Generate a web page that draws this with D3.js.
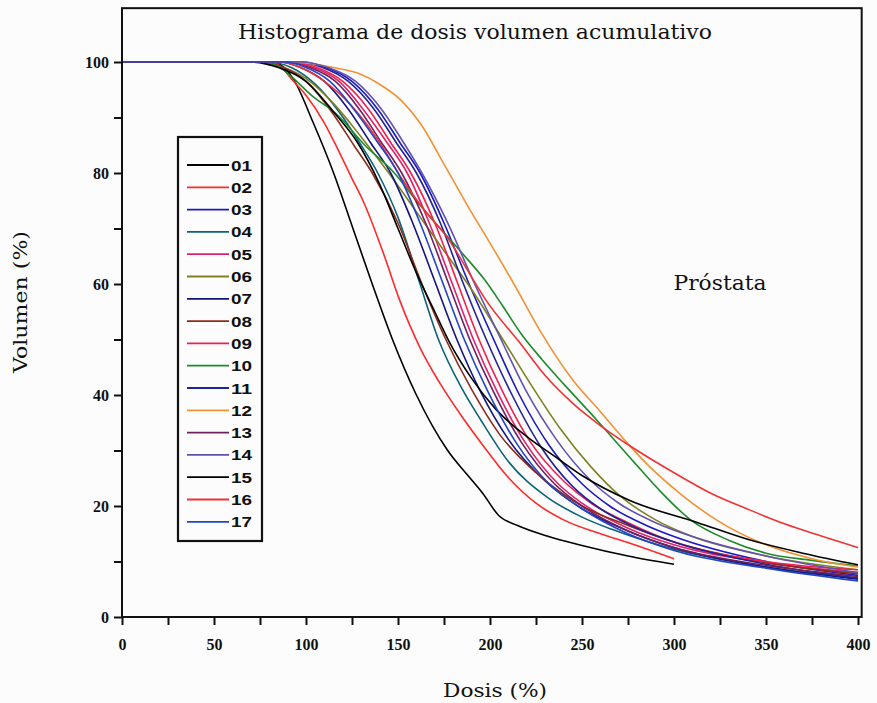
<!DOCTYPE html>
<html>
<head>
<meta charset="utf-8">
<script src="https://cdn.jsdelivr.net/npm/d3@7"></script>
<style>
  body { margin: 0; background: #fcfcfd; }
  svg { display: block; }
  .tick text { font-family: "Liberation Serif", serif; font-weight: bold; font-size: 16px; fill: #111; }
  .tick line { stroke: #111; stroke-width: 2; }
</style>
</head>
<body>
<div id="chart"></div>
<script>
const width = 877;
const height = 703;

// series names and colours (legend order)
const labels = ['01', '02', '03', '04', '05', '06', '07', '08', '09', '10', '11', '12', '13', '14', '15', '16', '17'];
const colors = ['#000000', '#ff2a2a', '#1a1ac0', '#0b6478', '#e0206e', '#808022', '#14147e', '#8e2c1c', '#f0204e',
                '#1f8a2a', '#222294', '#f29232', '#70205e', '#6252b2', '#000000', '#f03232', '#2244c8'];

const xTicks = [0, 50, 100, 150, 200, 250, 300, 350, 400];
const xMinor = [25, 75, 125, 175, 225, 275, 325, 375];
const yTicks = [0, 20, 40, 60, 80, 100];
const yMinor = [10, 30, 50, 70, 90];

// [dosis %, volumen %]
const dvh01 = [[0,100],[80,100],[86,99.5],[93,97],[104,89],[115,80],[125,70.5],[136,60],[147,50],[160,40],[177,30],[188,25.5],[196,22.3],[205,18.2],[215,16.5],[231,14.6],[250,12.9],[275,11],[300,9.5]];
const dvh02 = [[0,100],[80,100],[86,99.3],[92,97],[100,94],[110,89],[117,84.5],[125,79],[131,75],[142,65.6],[151,57],[162,48.5],[173,42],[185,36],[196,31],[209,25.5],[225,20.5],[240,17.5],[260,15],[276,13.3],[300,10.5]];
const dvh03 = [[0,100],[97,100],[111,99],[125,96.5],[139,91.5],[151,85.5],[162,80],[175,71],[188,60.5],[202,50],[216,40],[232,31],[250,24],[265,20],[285,16.5],[300,14.5],[350,10],[400,7.5]];
const dvh04 = [[0,100],[80,100],[92,99],[105,96],[118,91],[130,85],[139,80],[150,72],[161,61],[172,50],[185,41],[195,35.5],[210,28],[231,21.6],[250,18],[267,15.7],[300,12.2],[350,9],[400,7]];
const dvh05 = [[0,100],[90,100],[104,99],[118,96.5],[131,91.5],[144,85.5],[155,80],[167,71],[179,60.5],[191,50],[204,40.5],[219,31.5],[237,24],[250,20.5],[275,16],[300,13],[350,9.8],[400,8]];
const dvh06 = [[0,100],[75,100],[88,99],[100,97],[115,92.5],[130,86.5],[145,80],[160,73],[175,66],[190,59],[207,50],[222,42],[238,34],[255,27],[270,22],[290,17.5],[310,14.5],[350,11],[400,8.5]];
const dvh07 = [[0,100],[85,100],[97,99],[110,96.5],[123,91.5],[135,85.5],[146,80],[158,71],[170,60.5],[182,50],[195,40.5],[210,32],[230,24.5],[250,19.5],[275,15.5],[300,12.5],[350,9],[400,6.8]];
const dvh08 = [[0,100],[75,100],[88,99],[100,96.5],[114,91],[126,85],[136,80],[150,71],[163,60],[176,50],[190,41],[205,33],[225,26],[250,20],[275,16.5],[300,13.5],[350,9.8],[400,7.8]];
const dvh09 = [[0,100],[92,100],[106,99],[120,96.5],[134,91.5],[146,85.5],[157,80],[170,71],[182,60.5],[194,50],[207,40.5],[222,31.5],[240,24.5],[255,20.5],[275,17],[300,13.5],[350,10],[400,8.5]];
const dvh10 = [[0,100],[75,100],[85,99.2],[91,97.7],[103,94],[117,90.5],[132,85],[148,80],[160,75],[173,70],[185,65.5],[197,60.8],[207,56],[217,51],[228,46.5],[240,42],[258,35.5],[278,28],[293,22.5],[309,17.5],[330,13.8],[350,11.5],[375,10.2],[400,9.2]];
const dvh11 = [[0,100],[95,100],[109,99],[123,96.5],[137,91.5],[149,85.5],[160,80],[173,71],[185,60.5],[198,50],[212,40],[227,31],[245,23.5],[260,19.5],[280,16],[300,13.5],[350,9.5],[400,7]];
const dvh12 = [[0,100],[90,100],[105,99.6],[115,99],[128,98],[140,96],[152,93],[162,89],[176,81],[188,74],[198,68.5],[213,60],[227,51.7],[245,42.7],[260,37],[275,31.2],[287,27],[305,21.8],[323,17.5],[350,13],[375,10.5],[400,9]];
const dvh13 = [[0,100],[88,100],[102,99],[116,96.5],[129,91.5],[141,85.5],[152,80],[165,71],[177,60.5],[189,50],[202,40.5],[217,31.5],[235,24],[250,20],[275,15.5],[300,12.5],[350,9.3],[400,7.3]];
const dvh14 = [[0,100],[98,100],[112,99],[127,96.5],[141,91.5],[153,85.5],[163,80],[177,71],[191,60.5],[206,50],[220,40.5],[236,32],[255,24.5],[270,20.5],[290,17],[310,14.5],[350,11],[400,8]];
const dvh15 = [[0,100],[70,100],[85,99],[100,96.5],[115,91],[128,85.5],[140,78],[150,70],[160,62],[170,55],[178,49.5],[190,43],[203,37.5],[222,32],[235,29],[250,25.5],[276,21],[313,17],[340,14],[370,11.5],[400,9.4]];
const dvh16 = [[0,100],[85,100],[97,99],[110,96.5],[125,92],[140,85.5],[152,79],[165,73],[176.5,68.5],[191,60.7],[198,57],[216,49.5],[230,43.5],[245,38.5],[260,34.5],[280,30],[300,26],[320,22.3],[341,19.3],[360,16.8],[380,14.6],[400,12.5]];
const dvh17 = [[0,100],[88,100],[100,99],[113,96.5],[126,91.5],[139,85.5],[150,80],[162,71],[174,60.5],[186,50],[199,40.5],[214,31.5],[232,24],[250,19.5],[275,15],[300,12],[350,8.8],[400,6.5]];

const curves = [dvh01, dvh02, dvh03, dvh04, dvh05, dvh06, dvh07, dvh08, dvh09, dvh10, dvh11, dvh12, dvh13, dvh14, dvh15, dvh16, dvh17];

const x = d3.scaleLinear().domain([0, 400]).range([122, 858]);
const y = d3.scaleLinear().domain([0, 100]).range([617, 62]);

const svg = d3.select('#chart')
  .append('svg')
  .attr('width', width)
  .attr('height', height);

svg.append('defs').append('clipPath')
  .attr('id', 'plot')
  .append('rect')
  .attr('x', x(0))
  .attr('y', y(109.7))
  .attr('width', x(402) - x(0))
  .attr('height', y(0) - y(109.7));

// curves
const line = d3.line()
  .x((d) => x(d[0]))
  .y((d) => y(d[1]))
  .curve(d3.curveMonotoneX);

svg.append('g')
  .attr('clip-path', 'url(#plot)')
  .selectAll('path')
  .data(curves)
  .enter()
  .append('path')
  .attr('d', line)
  .attr('fill', 'none')
  .attr('stroke', (d, i) => colors[i])
  .attr('stroke-width', 1.6);

// frame
svg.append('rect')
  .attr('x', x(0))
  .attr('y', y(109.7))
  .attr('width', x(402) - x(0))
  .attr('height', y(0) - y(109.7))
  .attr('fill', 'none')
  .attr('stroke', '#111')
  .attr('stroke-width', 2);

// axes
const xAxis = svg.append('g')
  .attr('transform', `translate(0, ${y(0)})`)
  .call(d3.axisBottom(x).tickValues(xTicks).tickSize(8).tickPadding(14).tickSizeOuter(0));
xAxis.select('.domain').remove();

svg.append('g')
  .attr('transform', `translate(0, ${y(0)})`)
  .call(d3.axisBottom(x).tickValues(xMinor).tickSize(8).tickFormat(''))
  .select('.domain').remove();

const yAxis = svg.append('g')
  .attr('transform', `translate(${x(0)}, 0)`)
  .call(d3.axisLeft(y).tickValues(yTicks).tickSize(8).tickPadding(5).tickSizeOuter(0));
yAxis.select('.domain').remove();

svg.append('g')
  .attr('transform', `translate(${x(0)}, 0)`)
  .call(d3.axisLeft(y).tickValues(yMinor).tickSize(8).tickFormat(''))
  .select('.domain').remove();

// texts
svg.append('text')
  .attr('x', 475)
  .attr('y', 39)
  .attr('text-anchor', 'middle')
  .attr('textLength', 474)
  .attr('lengthAdjust', 'spacingAndGlyphs')
  .style('font-family', '"DejaVu Serif", serif')
  .style('font-size', '20px')
  .attr('fill', '#111')
  .text('Histograma de dosis volumen acumulativo');

svg.append('text')
  .attr('x', 720)
  .attr('y', 290)
  .attr('text-anchor', 'middle')
  .attr('textLength', 93)
  .attr('lengthAdjust', 'spacingAndGlyphs')
  .style('font-family', '"DejaVu Serif", serif')
  .style('font-size', '20px')
  .attr('fill', '#111')
  .text('Próstata');

svg.append('text')
  .attr('x', 495)
  .attr('y', 697)
  .attr('text-anchor', 'middle')
  .attr('textLength', 104)
  .attr('lengthAdjust', 'spacingAndGlyphs')
  .style('font-family', '"DejaVu Serif", serif')
  .style('font-size', '19px')
  .attr('fill', '#111')
  .text('Dosis (%)');

svg.append('text')
  .attr('transform', 'translate(27, 302) rotate(-90)')
  .attr('text-anchor', 'middle')
  .attr('textLength', 142)
  .attr('lengthAdjust', 'spacingAndGlyphs')
  .style('font-family', '"DejaVu Serif", serif')
  .style('font-size', '19px')
  .attr('fill', '#111')
  .text('Volumen (%)');

// legend
const legend = svg.append('g');

legend.append('rect')
  .attr('x', 178)
  .attr('y', 137)
  .attr('width', 84)
  .attr('height', 404)
  .attr('fill', 'none')
  .attr('stroke', '#111')
  .attr('stroke-width', 2.2);

const legendElem = legend.selectAll('g')
  .data(labels)
  .enter()
  .append('g')
  .attr('transform', (d, i) => `translate(0, ${165 + i * 22.3})`);

legendElem.append('line')
  .attr('x1', 187)
  .attr('x2', 229)
  .attr('stroke', (d, i) => colors[i])
  .attr('stroke-width', 1.8);

legendElem.append('text')
  .attr('x', 231)
  .attr('y', 5.5)
  .attr('textLength', 21)
  .attr('lengthAdjust', 'spacingAndGlyphs')
  .style('font-family', '"Liberation Sans", Arial, sans-serif')
  .style('font-weight', 'bold')
  .style('font-size', '15px')
  .attr('fill', '#111')
  .text((d) => d);
</script>
</body>
</html>
